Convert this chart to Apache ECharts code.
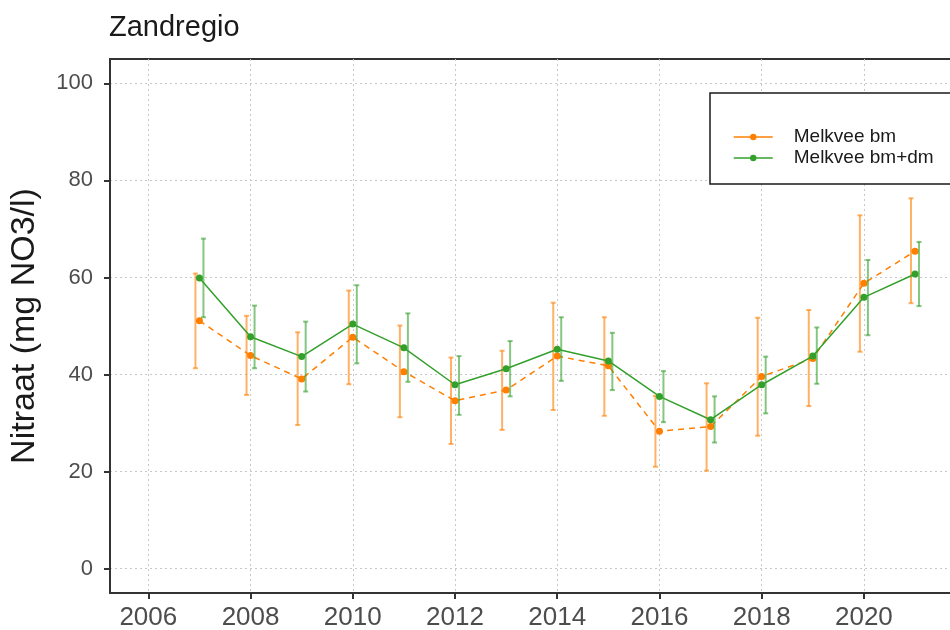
<!DOCTYPE html>
<html>
<head>
<meta charset="utf-8">
<script src="https://cdn.jsdelivr.net/npm/echarts@6/dist/echarts.min.js"></script>
<style>
  html, body { margin: 0; padding: 0; background: #fff; }
  #chart { width: 950px; height: 630px; }
</style>
</head>
<body>
<div id="chart"></div>
<script>
// jaren en gemiddelden met betrouwbaarheidsband
const years = [2007, 2008, 2009, 2010, 2011, 2012, 2013, 2014, 2015, 2016, 2017, 2018, 2019, 2020, 2021];

const bmMean = [51.1, 43.9, 39.1, 47.7, 40.6, 34.6, 36.8, 43.8, 41.8, 28.3, 29.3, 39.6, 43.3, 58.8, 65.4];
const bmLow  = [41.3, 35.8, 29.6, 38.0, 31.2, 25.7, 28.6, 32.7, 31.5, 21.0, 20.2, 27.4, 33.5, 44.7, 54.7];
const bmHigh = [60.8, 52.1, 48.7, 57.3, 50.1, 43.5, 44.9, 54.8, 51.8, 35.6, 38.2, 51.7, 53.3, 72.8, 76.3];

const dmMean = [59.9, 47.8, 43.7, 50.4, 45.5, 37.9, 41.2, 45.2, 42.8, 35.5, 30.7, 37.9, 43.8, 55.9, 60.7];
const dmLow  = [51.8, 41.3, 36.5, 42.3, 38.5, 31.7, 35.5, 38.7, 36.8, 30.2, 26.0, 32.0, 38.1, 48.1, 54.1];
const dmHigh = [68.0, 54.2, 50.9, 58.4, 52.6, 43.8, 46.9, 51.8, 48.6, 40.7, 35.5, 43.7, 49.7, 63.6, 67.3];

const xTicks = [2006, 2008, 2010, 2012, 2014, 2016, 2018, 2020];
const yTicks = [0, 20, 40, 60, 80, 100];

const orange = "#ff7f00";
const green = "#33a02c";
const font = "Liberation Sans";

// foutbalk met kleine kapjes, dx schuift hem een paar pixels opzij
const errorBar = (color, dx) => (params, api) => {
  const lo = api.coord([api.value(0), api.value(1)]);
  const hi = api.coord([api.value(0), api.value(2)]);
  const x = lo[0] + dx;
  const st = { stroke: color, lineWidth: 2 };
  return {
    type: "group",
    children: [
      { type: "line", shape: { x1: x, y1: lo[1], x2: x, y2: hi[1] }, style: st },
      { type: "line", shape: { x1: x - 2.5, y1: lo[1], x2: x + 2.5, y2: lo[1] }, style: st },
      { type: "line", shape: { x1: x - 2.5, y1: hi[1], x2: x + 2.5, y2: hi[1] }, style: st },
    ],
  };
};

const chart = echarts.init(document.getElementById("chart"));
chart.setOption({
  animation: false,
  textStyle: { fontFamily: font },
  title: {
    text: "Zandregio",
    left: 104,
    top: 8,
    textStyle: { fontFamily: font, fontSize: 29, fontWeight: "normal", color: "#1a1a1a" },
  },
  grid: {
    left: 110,
    top: 59,
    right: -10,
    bottom: 37,
    outerBoundsMode: "none",
    containLabel: false,
    show: true,
    borderColor: "#333",
    borderWidth: 2,
  },
  graphic: [
    {
      type: "rect",
      z: 3,
      shape: { x: 710, y: 93, width: 300, height: 91 },
      style: { fill: "#fff", stroke: "#1a1a1a", lineWidth: 1.5 },
    },
  ],
  legend: {
    data: ["Melkvee bm", "Melkvee bm+dm"],
    orient: "vertical",
    left: 728,
    top: 122,
    z: 5,
    itemWidth: 39,
    itemHeight: 8,
    itemGap: 1,
    lineStyle: { type: "solid", width: 1.5 },
    textStyle: {
      fontFamily: font,
      fontSize: 19,
      lineHeight: 20,
      color: "#1a1a1a",
      padding: [0, 0, 0, 16],
    },
  },
  xAxis: {
    type: "value",
    min: 2005.25,
    max: 2021.88,
    axisLine: { show: true, onZero: false, lineStyle: { color: "#333", width: 2 } },
    axisTick: { show: true, customValues: xTicks, length: 6, lineStyle: { color: "#333", width: 2 } },
    axisLabel: {
      customValues: xTicks,
      margin: 12,
      fontFamily: font,
      fontSize: 26,
      color: "#4d4d4d",
      formatter: (v) => String(v),
    },
    splitLine: { show: true, lineStyle: { color: "#c8c8c8", width: 1, type: [2, 3] } },
  },
  yAxis: {
    type: "value",
    min: -5,
    max: 105,
    name: "Nitraat (mg NO3/l)",
    nameLocation: "middle",
    nameGap: 68,
    nameTextStyle: { fontFamily: font, fontSize: 34, color: "#1a1a1a" },
    axisLine: { show: true, onZero: false, lineStyle: { color: "#333", width: 2 } },
    axisTick: { show: true, customValues: yTicks, length: 6, lineStyle: { color: "#333", width: 2 } },
    axisLabel: {
      customValues: yTicks,
      margin: 17,
      fontFamily: font,
      fontSize: 22,
      color: "#4d4d4d",
    },
    splitLine: { show: true, lineStyle: { color: "#c8c8c8", width: 1, type: [2, 3] } },
  },
  series: [
    {
      name: "bm-fout",
      type: "custom",
      z: 2,
      renderItem: errorBar("rgba(255,127,0,0.6)", -4),
      encode: { x: 0, y: [1, 2] },
      data: years.map((y, i) => [y, bmLow[i], bmHigh[i]]),
    },
    {
      name: "Melkvee bm",
      type: "line",
      z: 3,
      data: years.map((y, i) => [y, bmMean[i]]),
      symbol: "circle",
      symbolSize: 7,
      itemStyle: { color: orange },
      lineStyle: { color: orange, width: 1.5, type: [6, 5] },
    },
    {
      name: "bmdm-fout",
      type: "custom",
      z: 4,
      renderItem: errorBar("rgba(51,160,44,0.6)", 4),
      encode: { x: 0, y: [1, 2] },
      data: years.map((y, i) => [y, dmLow[i], dmHigh[i]]),
    },
    {
      name: "Melkvee bm+dm",
      type: "line",
      z: 5,
      data: years.map((y, i) => [y, dmMean[i]]),
      symbol: "circle",
      symbolSize: 7,
      itemStyle: { color: green },
      lineStyle: { color: green, width: 1.5 },
    },
  ],
});
</script>
</body>
</html>
